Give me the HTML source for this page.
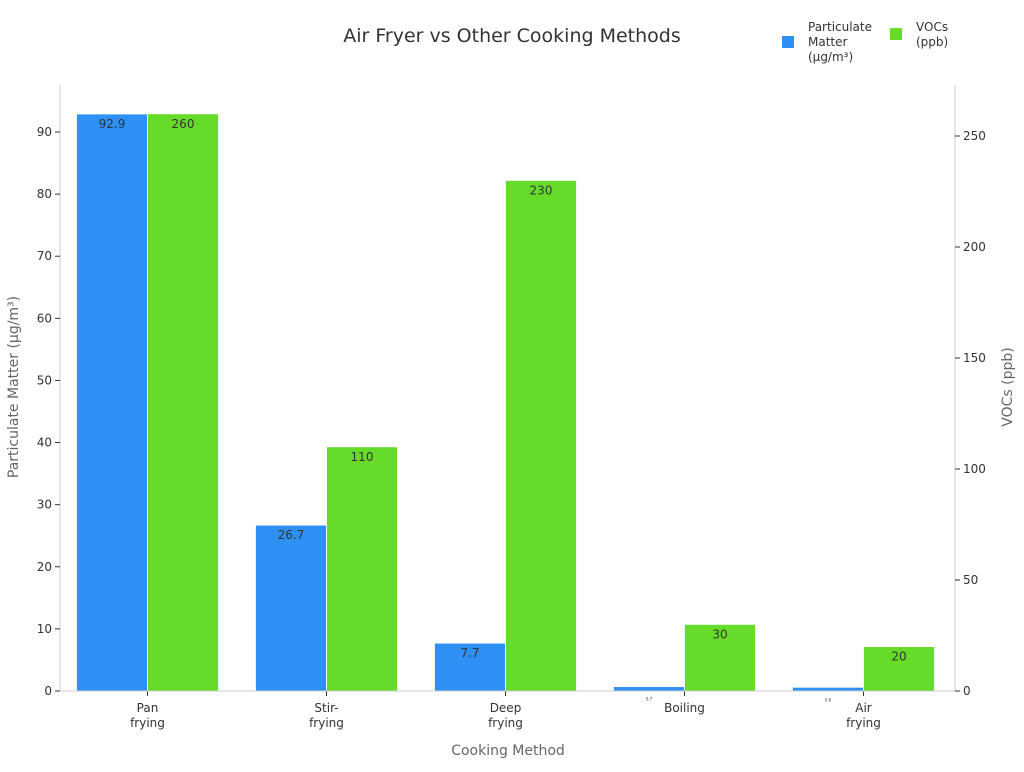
<!DOCTYPE html>
<html><head><meta charset="utf-8"><style>
body{margin:0;background:#fff;font-family:"DejaVu Sans","Liberation Sans",sans-serif;}
svg text{font-family:"DejaVu Sans","Liberation Sans",sans-serif;}
</style></head><body>
<svg id="chart" width="1024" height="768" xmlns="http://www.w3.org/2000/svg">
<text x="512" y="42" text-anchor="middle" font-size="19" fill="#333">Air Fryer vs Other Cooking Methods</text>
<g>
 <rect x="782" y="36" width="12" height="12" fill="#2e90f5"/>
 <text font-size="12" fill="#333"><tspan x="808" y="31">Particulate</tspan><tspan x="808" y="46">Matter</tspan><tspan x="808" y="61">(µg/m³)</tspan></text>
 <rect x="890" y="28" width="12" height="12" fill="#66db29"/>
 <text font-size="12" fill="#333"><tspan x="916" y="31">VOCs</tspan><tspan x="916" y="46">(ppb)</tspan></text>
</g>
<g id="plot"></g>
<text x="508" y="755" text-anchor="middle" font-size="14" fill="#666">Cooking Method</text>
<text transform="translate(18,387) rotate(-90)" text-anchor="middle" font-size="14" fill="#666">Particulate Matter (µg/m³)</text>
<text transform="translate(1012,387) rotate(-90)" text-anchor="middle" font-size="14" fill="#666">VOCs (ppb)</text>
</svg>
<script>
const categories=[["Pan","frying"],["Stir-","frying"],["Deep","frying"],["Boiling"],["Air","frying"]];
const pmValues=[92.9,26.7,7.7,0.7,0.6];
const vocValues=[260,110,230,30,20];
const leftTicks=[0,10,20,30,40,50,60,70,80,90];
const rightTicks=[0,50,100,150,200,250];
const NS="http://www.w3.org/2000/svg";
const g=document.getElementById('plot');
const X0=60,X1=955,Y0=691;
const yL=v=>Y0-v*(559/90);
const yR=v=>Y0-v*(555/250);
const step=(X1-X0)/categories.length;
const cx=i=>X0+step*(i+0.5)-2;
const bw=71;
function mk(t,a){const e=document.createElementNS(NS,t);for(const k in a)e.setAttribute(k,a[k]);g.appendChild(e);return e;}
// axes
let e=mk('line',{x1:X0,y1:85,x2:X0,y2:Y0,stroke:'#ccc'});


e=mk('line',{x1:X1,y1:85,x2:X1,y2:Y0,stroke:'#ccc'});


leftTicks.forEach(v=>{
 mk('line',{x1:X0-5,x2:X0,y1:yL(v),y2:yL(v),stroke:'#333'});
 const t=mk('text',{x:X0-8,y:yL(v)+4,'text-anchor':'end','font-size':12,fill:'#333'});t.textContent=v;
 
 
});
rightTicks.forEach(v=>{
 mk('line',{x1:X1,x2:X1+5,y1:yR(v),y2:yR(v),stroke:'#333'});
 const t=mk('text',{x:X1+8,y:yR(v)+4,'font-size':12,fill:'#333'});t.textContent=v;
 
 
});
categories.forEach((c,i)=>{
 const x=cx(i);
 let b=mk('rect',{x:x-bw,y:yL(pmValues[i]),width:bw,height:Y0-yL(pmValues[i]),fill:'#2e90f5',stroke:'#fff','stroke-width':0.8});
 
 
 b=mk('rect',{x:x,y:yR(vocValues[i]),width:bw,height:Y0-yR(vocValues[i]),fill:'#66db29',stroke:'#fff','stroke-width':0.8});
 
 
 let t=mk('text',{x:x-bw/2,y:yL(pmValues[i])+14,'text-anchor':'middle','font-size':pmValues[i]<2?4:12,fill:'#333'});t.textContent=pmValues[i];
 
 
 t=mk('text',{x:x+bw/2,y:yR(vocValues[i])+14,'text-anchor':'middle','font-size':12,fill:'#333'});t.textContent=vocValues[i];
 
 
 mk('line',{x1:x,x2:x,y1:Y0,y2:Y0+5,stroke:'#333'});
 c.forEach((s,j)=>{const l=mk('text',{x:x,y:712+j*15,'text-anchor':'middle','font-size':12,fill:'#333'});l.textContent=s;
  
  });
});
e=mk('line',{x1:X0,y1:Y0,x2:X1,y2:Y0,stroke:'#ccc'});


</script>
</body></html>
